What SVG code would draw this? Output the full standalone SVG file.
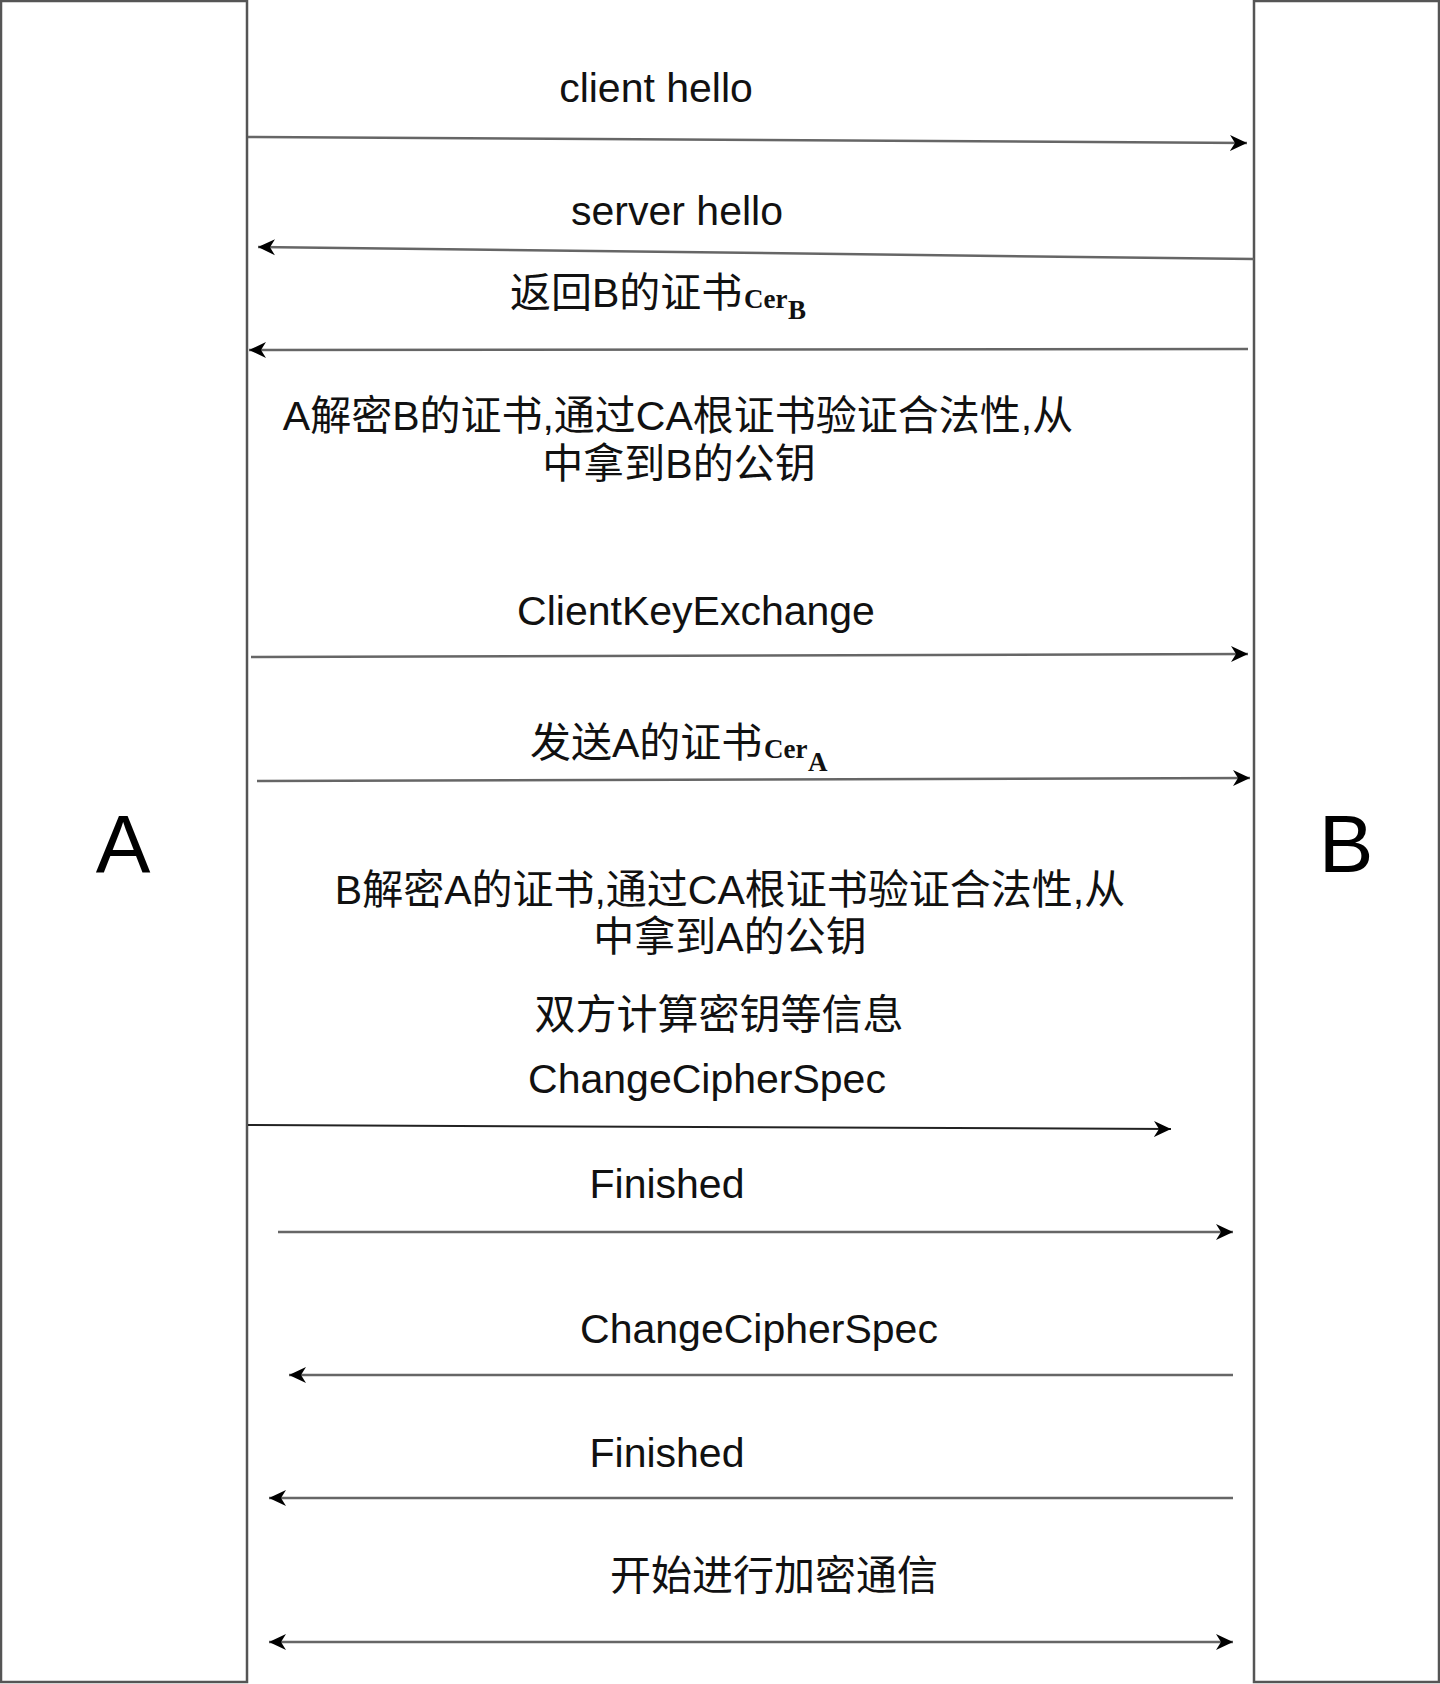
<svg xmlns="http://www.w3.org/2000/svg" width="1440" height="1684" viewBox="0 0 1440 1684">
  <style>
    .box { fill: #ffffff; stroke: #555555; stroke-width: 2.5; }
    .big { font-family: "Liberation Sans", Arial, sans-serif; font-size: 82px; fill: #000; text-anchor: middle; }
    .lbl { font-family: "Liberation Sans", Arial, "Noto Sans CJK SC", sans-serif; font-size: 41px; fill: #111; }
    .mid { text-anchor: middle; }
    .math { font-family: "Liberation Serif", "Times New Roman", serif; font-weight: bold; font-size: 27px; fill: #111; }
    .edge { fill: none; stroke: #666666; stroke-width: 2.5; marker-end: url(#arrow); }
    .dark { stroke: #222222; stroke-width: 2; }
    .both { marker-start: url(#arrow); }
  </style>
  <defs>
    <marker id="arrow" viewBox="0 0 18 18" refX="17" refY="9" markerWidth="18" markerHeight="18" markerUnits="userSpaceOnUse" orient="auto-start-reverse">
      <path d="M17,9 L0,1 L5,9 L0,17 Z" fill="#000000"/>
    </marker>
  </defs>
  <rect x="0" y="0" width="1440" height="1684" fill="#ffffff"/>

  <g id="node-A">
    <rect class="box" x="1" y="1" width="246" height="1681"/>
    <text class="big" x="123" y="872">A</text>
  </g>
  <g id="node-B">
    <rect class="box" x="1254" y="1" width="185" height="1681"/>
    <text class="big" x="1346" y="872">B</text>
  </g>

  <g id="connectors">
    <line id="e1" class="edge" x1="248" y1="137" x2="1247" y2="143"/>
    <line id="e2" class="edge" x1="1254" y1="259" x2="258" y2="247"/>
    <line id="e3" class="edge" x1="1248" y1="349" x2="249" y2="350"/>
    <line id="e4" class="edge" x1="251" y1="657" x2="1248" y2="654"/>
    <line id="e5" class="edge" x1="257" y1="781" x2="1250" y2="778"/>
    <line id="e6" class="edge dark" x1="248" y1="1125" x2="1171" y2="1129"/>
    <line id="e7" class="edge" x1="278" y1="1232" x2="1233" y2="1232"/>
    <line id="e8" class="edge" x1="1233" y1="1375" x2="289" y2="1375"/>
    <line id="e9" class="edge" x1="1233" y1="1498" x2="269" y2="1498"/>
    <line id="e10" class="edge both" x1="269" y1="1642" x2="1233" y2="1642"/>
  </g>

  <g id="labels">
    <text id="t-client-hello" class="lbl mid" x="656" y="102">client hello</text>
    <text id="t-server-hello" class="lbl mid" x="677" y="225">server hello</text>
    <g id="t-cert-b">
      <text class="lbl" x="510" y="307">返回B的证书</text>
      <text class="math" x="744" y="308">Cer</text>
      <text class="math" x="788" y="319">B</text>
    </g>
    <g id="t-a-decrypt">
      <text class="lbl mid" x="678" y="430">A解密B的证书,通过CA根证书验证合法性,从</text>
      <text class="lbl mid" x="679" y="478">中拿到B的公钥</text>
    </g>
    <text id="t-cke" class="lbl mid" x="696" y="625">ClientKeyExchange</text>
    <g id="t-cert-a">
      <text class="lbl" x="530" y="757">发送A的证书</text>
      <text class="math" x="764" y="758">Cer</text>
      <text class="math" x="808" y="771">A</text>
    </g>
    <g id="t-b-decrypt">
      <text class="lbl mid" x="730" y="904">B解密A的证书,通过CA根证书验证合法性,从</text>
      <text class="lbl mid" x="730" y="951">中拿到A的公钥</text>
    </g>
    <text id="t-compute" class="lbl mid" x="719" y="1029">双方计算密钥等信息</text>
    <text id="t-ccs1" class="lbl mid" x="707" y="1093">ChangeCipherSpec</text>
    <text id="t-fin1" class="lbl mid" x="667" y="1198">Finished</text>
    <text id="t-ccs2" class="lbl mid" x="759" y="1343">ChangeCipherSpec</text>
    <text id="t-fin2" class="lbl mid" x="667" y="1467">Finished</text>
    <text id="t-start" class="lbl mid" x="774" y="1590">开始进行加密通信</text>
  </g>
</svg>
